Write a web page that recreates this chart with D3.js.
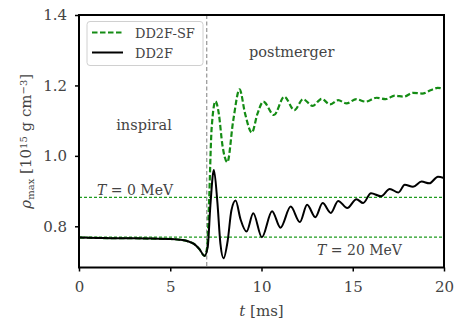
<!DOCTYPE html>
<html>
<head>
<meta charset="utf-8">
<script src="https://cdn.jsdelivr.net/npm/d3@7"></script>
<style>
  body { margin: 0; background: #fff; }
  svg text { font-family: "DejaVu Serif", "Liberation Serif", serif; }
</style>
</head>
<body>
<svg id="chart"></svg>
<script>
// t [ms] and rho_max [1e15 g/cm^3]
const tBlack = [0, 1, 2, 3, 4, 5, 5.5, 6, 6.3, 6.6, 6.88, 7.05, 7.2, 7.39, 7.58, 7.75, 7.92, 8.15, 8.35, 8.58, 8.85, 9.18, 9.55, 10.02, 10.58, 11.04, 11.6, 12.1, 12.5, 12.95, 13.35, 13.8, 14.2, 14.7, 15.2, 15.57, 16.0, 16.55, 17.03, 17.5, 17.85, 18.3, 18.77, 19.2, 19.67, 20];
const rhoBlack = [0.768, 0.767, 0.766, 0.766, 0.765, 0.764, 0.762, 0.757, 0.750, 0.735, 0.716, 0.74, 0.86, 0.960, 0.87, 0.75, 0.709, 0.76, 0.845, 0.873, 0.82, 0.785, 0.837, 0.769, 0.843, 0.796, 0.856, 0.812, 0.861, 0.826, 0.866, 0.838, 0.872, 0.852, 0.877, 0.866, 0.894, 0.885, 0.906, 0.896, 0.918, 0.912, 0.927, 0.922, 0.941, 0.937];

const tSF = [0, 1, 2, 3, 4, 5, 5.5, 6, 6.3, 6.6, 6.88, 7.02, 7.12, 7.27, 7.48, 7.66, 7.86, 8.13, 8.45, 8.8, 9.1, 9.47, 9.78, 10.1, 10.68, 11.25, 11.8, 12.28, 12.8, 13.3, 13.75, 14.2, 14.66, 15.2, 15.7, 16.3, 16.8, 17.3, 17.8, 18.3, 18.8, 19.3, 19.65, 20];
const rhoSF = [0.768, 0.767, 0.766, 0.766, 0.765, 0.764, 0.762, 0.757, 0.750, 0.735, 0.716, 0.74, 0.86, 1.08, 1.155, 1.12, 1.03, 0.982, 1.10, 1.189, 1.12, 1.066, 1.12, 1.154, 1.116, 1.168, 1.13, 1.161, 1.142, 1.162, 1.146, 1.158, 1.149, 1.161, 1.154, 1.165, 1.161, 1.171, 1.168, 1.179, 1.177, 1.187, 1.193, 1.19];

const xTicks = [0, 5, 10, 15, 20];
const yTicks = [0.8, 1.0, 1.2, 1.4];
const tMerger = 7.0;
const rhoT0 = 0.882;
const rhoT20 = 0.769;

const W = 457, H = 324;
const margin = { top: 15, right: 13, bottom: 56.5, left: 79 };
const iw = W - margin.left - margin.right;
const ih = H - margin.top - margin.bottom;

const svg = d3.select("#chart").attr("width", W).attr("height", H);
const g = svg.append("g").attr("transform", `translate(${margin.left},${margin.top})`);

const x = d3.scaleLinear().domain([0, 20]).range([0, iw]);
const y = d3.scaleLinear().domain([0.683, 1.4]).range([ih, 0]);

g.append("defs").append("clipPath").attr("id", "clip")
  .append("rect").attr("width", iw).attr("height", ih);

const plot = g.append("g").attr("clip-path", "url(#clip)");

// reference lines
[rhoT0, rhoT20].forEach(v => {
  plot.append("line")
    .attr("x1", 0).attr("x2", iw)
    .attr("y1", y(v)).attr("y2", y(v))
    .attr("stroke", "#1e9c1e").attr("stroke-width", 1.2)
    .attr("stroke-dasharray", "3,2");
});
plot.append("line")
  .attr("x1", x(tMerger)).attr("x2", x(tMerger))
  .attr("y1", 0).attr("y2", ih)
  .attr("stroke", "#8a8a8a").attr("stroke-width", 1.1)
  .attr("stroke-dasharray", "4,2.5");

const line = d3.line().curve(d3.curveMonotoneX);

plot.append("path")
  .attr("d", line(tSF.map((t, i) => [x(t), y(rhoSF[i])])))
  .attr("fill", "none").attr("stroke", "#148c14").attr("stroke-width", 2.2)
  .attr("stroke-dasharray", "5.5,2.5");

plot.append("path")
  .attr("d", line(tBlack.map((t, i) => [x(t), y(rhoBlack[i])])))
  .attr("fill", "none").attr("stroke", "#000").attr("stroke-width", 2);

// axes
const xAxis = g.append("g").attr("transform", `translate(0,${ih})`)
  .call(d3.axisBottom(x).tickValues(xTicks).tickFormat(d3.format("d")).tickSize(4).tickPadding(10));
const yAxis = g.append("g")
  .call(d3.axisLeft(y).tickValues(yTicks).tickFormat(d3.format(".1f")).tickSize(4).tickPadding(8));
[xAxis, yAxis].forEach(a => {
  a.select(".domain").remove();
  a.selectAll(".tick line").attr("stroke", "#000").attr("stroke-width", 1.5);
  a.selectAll(".tick text").attr("fill", "#444").style("font-size", "15px")
    .style("font-family", "'DejaVu Serif', serif");
});

g.append("rect").attr("width", iw).attr("height", ih)
  .attr("fill", "none").attr("stroke", "#000").attr("stroke-width", 2);

// annotations
const ann = (tx, ty, txt, anchor) => g.append("text")
  .attr("x", tx).attr("y", ty).attr("text-anchor", anchor || "start")
  .attr("fill", "#444").style("font-size", "14.5px").text(txt);
ann(65, 115, "inspiral", "middle");
ann(170, 42, "postmerger");

const tLab = (tx, ty, val) => {
  const t = g.append("text").attr("x", tx).attr("y", ty).attr("fill", "#444").style("font-size", "14px");
  t.append("tspan").style("font-style", "italic").text("T");
  t.append("tspan").text(` = ${val} MeV`);
};
tLab(18, 180, "0");
tLab(238, 240, "20");

// legend
const leg = g.append("g").attr("transform", "translate(8,6.5)");
leg.append("rect").attr("width", 116).attr("height", 44).attr("rx", 3)
  .attr("fill", "#fff").attr("fill-opacity", 0.85)
  .attr("stroke", "#d0d0d0").attr("stroke-width", 1);
const items = [
  { name: "DD2F-SF", color: "#148c14", dash: "5.5,2.5", w: 2.2 },
  { name: "DD2F", color: "#000", dash: null, w: 2 }
];
items.forEach((d, i) => {
  const yy = 11 + i * 20;
  leg.append("line").attr("x1", 5).attr("x2", 36).attr("y1", yy).attr("y2", yy)
    .attr("stroke", d.color).attr("stroke-width", d.w)
    .attr("stroke-dasharray", d.dash);
  leg.append("text").attr("x", 48).attr("y", yy + 5).attr("fill", "#444")
    .style("font-size", "13px").text(d.name);
});

// axis titles
svg.append("text").attr("x", margin.left + iw / 2).attr("y", 316)
  .attr("text-anchor", "middle").attr("fill", "#444").style("font-size", "15px")
  .call(t => {
    t.append("tspan").style("font-style", "italic").text("t");
    t.append("tspan").text(" [ms]");
  });

svg.append("text")
  .attr("transform", `translate(31,${margin.top + ih / 2}) rotate(-90)`)
  .attr("text-anchor", "middle").attr("fill", "#444").style("font-size", "15px")
  .call(t => {
    t.append("tspan").style("font-style", "italic").text("ρ");
    t.append("tspan").attr("baseline-shift", "-25%").style("font-size", "10px").text("max");
    t.append("tspan").text(" [10");
    t.append("tspan").attr("baseline-shift", "45%").style("font-size", "10px").text("15");
    t.append("tspan").text(" g cm");
    t.append("tspan").attr("baseline-shift", "45%").style("font-size", "10px").text("−3");
    t.append("tspan").text("]");
  });
</script>
</body>
</html>
